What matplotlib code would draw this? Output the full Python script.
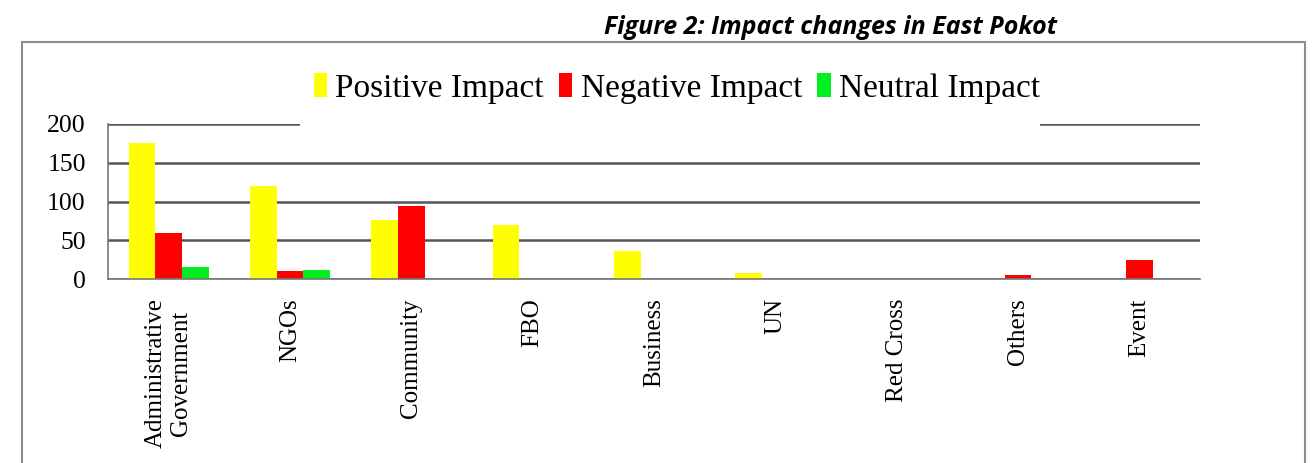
import numpy as np
import matplotlib
matplotlib.use("Agg")
import matplotlib.pyplot as plt
from matplotlib.patches import Rectangle

categories = ["Administrative\nGovernment", "NGOs", "Community", "FBO", "Business",
              "UN", "Red Cross", "Others", "Event"]
positive = [175, 120, 76, 70, 36, 8, 0, 0, 0]
negative = [60, 10, 94, 0, 0, 0, 0, 5, 24]
neutral = [15, 11, 0, 0, 0, 0, 0, 0, 0]

fig = plt.figure(figsize=(13.13, 4.63), dpi=100)

# outer frame of the figure
fig.patches.append(Rectangle((22 / 1313, -0.05), 1283 / 1313, 1 - 42 / 463 + 0.05,
                             transform=fig.transFigure, fill=False,
                             edgecolor="#8c8c8c", linewidth=1.5))

ax = fig.add_axes([108 / 1313, 1 - 279 / 463, (1200 - 108) / 1313, (279 - 124) / 463])

x = np.arange(len(categories))
w = 0.22
ax.bar(x - w, positive, w, color="#ffff00", label="Positive Impact")
ax.bar(x, negative, w, color="#ff0000", label="Negative Impact")
ax.bar(x + w, neutral, w, color="#00ee22", label="Neutral Impact")

ax.set_xlim(-0.5, len(categories) - 0.5)
ax.set_ylim(0, 200)
ax.set_yticks([0, 50, 100, 150, 200])
ax.yaxis.grid(True, color="#555555", linewidth=1.8)
ax.set_axisbelow(True)
for s in ["top", "right"]:
    ax.spines[s].set_visible(False)
for s in ["left", "bottom"]:
    ax.spines[s].set_color("#777777")
    ax.spines[s].set_linewidth(1.2)
ax.tick_params(length=0)
ax.tick_params(axis="y", pad=16)
ax.set_yticklabels([0, 50, 100, 150, 200], fontsize=18.5, family="Liberation Serif")
ax.set_xticks(x)
ax.set_xticklabels(categories, rotation=90, fontsize=18, family="Liberation Serif",
                   va="top", ha="center", multialignment="center")
ax.tick_params(axis="x", pad=14)

# white band behind the legend hides the middle of the top gridline
ax.add_patch(Rectangle((300 / 1313, 1 - 130 / 463), 740 / 1313, 70 / 463,
                       transform=fig.transFigure, facecolor="white", edgecolor="none",
                       clip_on=False, zorder=4))

leg = ax.legend(loc="center", bbox_to_anchor=(0.521, 1.23), ncol=3, frameon=False,
                prop={"family": "Liberation Serif", "size": 24},
                handlelength=0.4, handleheight=0.7, handletextpad=0.25,
                columnspacing=0.45)
leg.set_zorder(5)

fig.text(830 / 1313, 1 - 28 / 463, "Figure 2: Impact changes in East Pokot",
         ha="center", va="center", fontsize=18, fontweight="bold", fontstyle="italic",
         family="Open Sans")

fig.savefig("out.png", dpi=100)
